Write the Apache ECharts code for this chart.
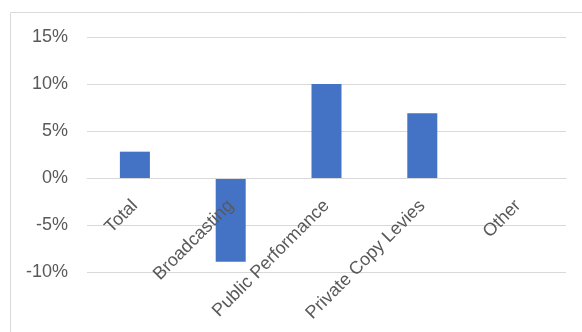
<!DOCTYPE html>
<html>
<head>
<meta charset="utf-8">
<script src="https://cdn.jsdelivr.net/npm/echarts@6/dist/echarts.min.js"></script>
<style>
    html, body {margin: 0; padding: 0; background: #fff;}
    #main {width: 582px; height: 332px;}
</style>
</head>
<body>
<div id="main"></div>
<script>
// categories and values (percent change)
const categories = ['Total', 'Broadcasting', 'Public Performance', 'Private Copy Levies', 'Other'];
const changes = [2.8, -8.9, 10, 6.9, 0];
const FONT = 'Liberation Sans';

let myChart = echarts.init(document.getElementById('main'), null, {renderer: 'canvas'});

let option = {
    animation: false,
    grid: {left: 87, right: 16, top: 37, bottom: 60, containLabel: false, outerBoundsMode: 'none'},
    graphic: [{
        type: 'rect',
        shape: {x: 10.5, y: 12.5, width: 600, height: 400},
        style: {fill: 'none', stroke: '#d9d9d9', lineWidth: 1}
    }],
    xAxis: {
        type: 'category',
        data: categories,
        z: 5, // labels drawn over the bars
        axisLine: {onZero: true, lineStyle: {color: '#d9d9d9'}},
        axisTick: {show: false},
        axisLabel: {
            rotate: 45,
            interval: 0,
            // labels sit under the zero line, not under the grid bottom
            margin: -69,
            color: '#595959',
            fontFamily: FONT,
            fontSize: 18
        }
    },
    yAxis: {
        type: 'value',
        min: -10,
        max: 15,
        interval: 5,
        axisLine: {show: false},
        axisTick: {show: false},
        splitLine: {lineStyle: {color: '#d9d9d9'}},
        axisLabel: {
            formatter: '{value}%',
            margin: 19,
            color: '#595959',
            fontFamily: FONT,
            fontSize: 18
        }
    },
    series: [{
        type: 'bar',
        data: changes,
        barWidth: 30,
        itemStyle: {color: '#4472c4'}
    }]
};

myChart.setOption(option);
</script>
</body>
</html>
